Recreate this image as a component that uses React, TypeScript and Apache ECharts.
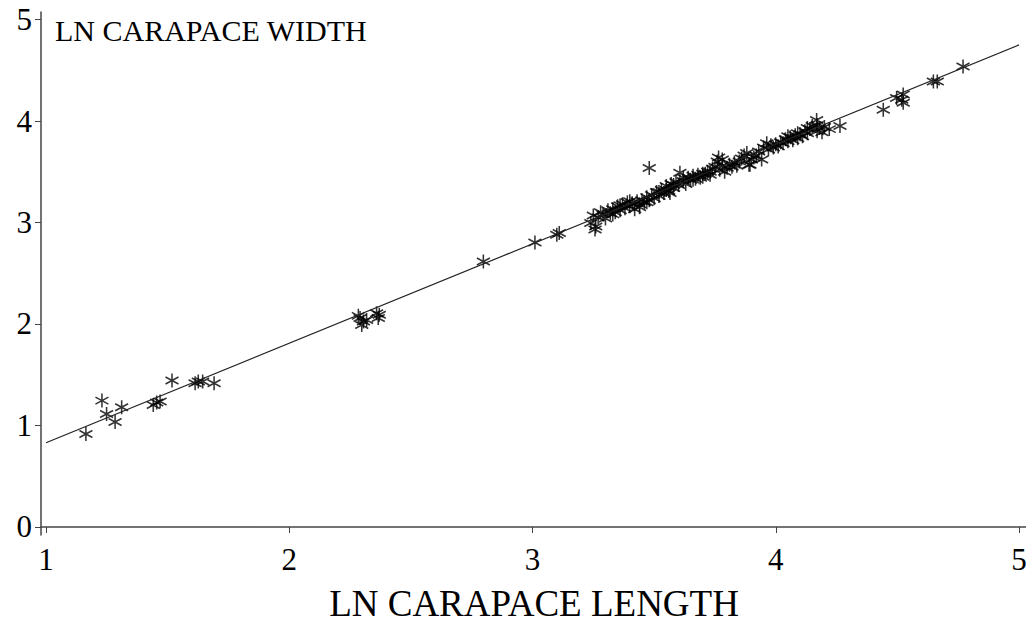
import React, { useEffect, useRef } from "react";
import * as echarts from "echarts";

// tick values
const xTicks = [1, 2, 3, 4, 5];
const yTicks = [0, 1, 2, 3, 4, 5];

// ln carapace length (x) and ln carapace width (y)
const lengthLow = [1.164, 1.230, 1.249, 1.284, 1.311, 1.441, 1.455, 1.469, 1.518, 1.613, 1.626, 1.644, 1.691];
const widthLow = [0.917, 1.245, 1.114, 1.035, 1.18, 1.203, 1.226, 1.236, 1.443, 1.417, 1.433, 1.433, 1.417];

const lengthMid = [2.284, 2.291, 2.298, 2.305, 2.318, 2.359, 2.366, 2.370, 2.798, 3.010, 3.100, 3.110];
const widthMid = [2.08, 2.058, 1.99, 2.025, 2.04, 2.107, 2.058, 2.09, 2.616, 2.804, 2.880, 2.896];

const lengthBand = [
  3.24, 3.25, 3.257, 3.26, 3.27, 3.28, 3.29, 3.30, 3.31, 3.32, 3.33, 3.33, 3.34, 3.35, 3.36, 3.36,
  3.37, 3.38, 3.39, 3.40, 3.40, 3.41, 3.42, 3.43, 3.44, 3.44, 3.45, 3.46, 3.47, 3.47, 3.48, 3.48,
  3.49, 3.50, 3.51, 3.52, 3.52, 3.53, 3.54, 3.55, 3.55, 3.56, 3.565, 3.57, 3.58, 3.58, 3.59, 3.60,
  3.606, 3.62, 3.62, 3.63, 3.64, 3.65, 3.66, 3.66, 3.67, 3.68, 3.69, 3.70, 3.70, 3.71, 3.72, 3.73,
  3.73, 3.74, 3.75, 3.76, 3.765, 3.77, 3.78, 3.78, 3.79, 3.80, 3.81, 3.82, 3.83, 3.84, 3.85, 3.86,
  3.87, 3.881, 3.89, 3.894, 3.90, 3.91, 3.92, 3.93, 3.942, 3.95, 3.963, 3.97, 3.98, 3.99, 4.00, 4.01,
  4.02, 4.03, 4.04, 4.05, 4.05, 4.06, 4.07, 4.08, 4.09, 4.09, 4.10, 4.11, 4.12, 4.13, 4.13, 4.14,
  4.15, 4.168, 4.17, 4.17, 4.18, 4.19, 4.20, 4.22, 4.264,
];
const widthBand = [
  2.995, 3.07, 2.93, 2.96, 3.05, 3.10, 3.08, 3.04, 3.12, 3.09, 3.13, 3.08, 3.10, 3.16, 3.12, 3.17,
  3.18, 3.14, 3.20, 3.16, 3.21, 3.19, 3.13, 3.21, 3.18, 3.15, 3.22, 3.20, 3.25, 3.20, 3.22, 3.537,
  3.27, 3.24, 3.30, 3.26, 3.30, 3.32, 3.29, 3.36, 3.32, 3.31, 3.29, 3.38, 3.34, 3.37, 3.40, 3.37,
  3.49, 3.41, 3.44, 3.38, 3.44, 3.42, 3.46, 3.42, 3.43, 3.47, 3.44, 3.45, 3.48, 3.48, 3.50, 3.47,
  3.50, 3.53, 3.55, 3.60, 3.64, 3.52, 3.62, 3.56, 3.50, 3.54, 3.57, 3.55, 3.59, 3.56, 3.60, 3.63,
  3.66, 3.685, 3.57, 3.57, 3.62, 3.64, 3.66, 3.70, 3.62, 3.74, 3.78, 3.72, 3.76, 3.74, 3.77, 3.75,
  3.79, 3.78, 3.82, 3.80, 3.85, 3.84, 3.81, 3.86, 3.83, 3.88, 3.87, 3.85, 3.90, 3.88, 3.93, 3.92,
  3.95, 4.01, 3.90, 3.96, 3.93, 3.89, 3.94, 3.92, 3.95,
];

const lengthHigh = [4.442, 4.497, 4.518, 4.524, 4.524, 4.648, 4.664, 4.770];
const widthHigh = [4.112, 4.227, 4.21, 4.26, 4.18, 4.39, 4.39, 4.536];

// fitted line end points
const fitX = [1, 5];
const fitY = [0.83, 4.75];

const xTitle = "LN CARAPACE LENGTH";
const yTitle = "LN CARAPACE WIDTH";

const FONT = "'Liberation Serif', 'Times New Roman', serif";
const STAR = "path://M10 0 L10 20 M1.34 5 L18.66 15 M1.34 15 L18.66 5";

export default function App() {
  const ref = useRef<HTMLDivElement>(null);

  useEffect(() => {
    if (!ref.current) return;
    const chart = echarts.init(ref.current, null, { renderer: "svg" });
    const xs = [...lengthLow, ...lengthMid, ...lengthBand, ...lengthHigh];
    const ys = [...widthLow, ...widthMid, ...widthBand, ...widthHigh];
    const points = xs.map((x, i) => [x, ys[i]]);
    const fit = fitX.map((x, i) => [x, fitY[i]]);

    chart.setOption({
      animation: false,
      backgroundColor: "#fff",
      title: {
        text: yTitle,
        left: 55,
        top: 15,
        padding: 0,
        textStyle: { fontFamily: FONT, fontSize: 30, fontWeight: "normal", color: "#000" },
      },
      grid: {
        left: 41,
        right: 7,
        top: 12,
        bottom: 88,
        containLabel: false,
        outerBoundsMode: "none",
      },
      xAxis: {
        type: "value",
        min: 0.9794,
        max: 5.0329,
        name: xTitle,
        nameLocation: "middle",
        nameGap: 50,
        nameTextStyle: { fontFamily: FONT, fontSize: 37, color: "#000" },
        axisLine: { show: true, lineStyle: { color: "#444", width: 1.5 } },
        axisTick: { show: true, customValues: xTicks, length: 6, lineStyle: { color: "#444" } },
        axisLabel: {
          customValues: xTicks,
          fontFamily: FONT,
          fontSize: 31,
          color: "#000",
          margin: 9,
        },
        splitLine: { show: false },
      },
      yAxis: {
        type: "value",
        min: -0.079,
        max: 5.074,
        axisLine: { show: true, lineStyle: { color: "#444", width: 1.5 } },
        axisTick: { show: true, customValues: yTicks, length: 6, lineStyle: { color: "#444" } },
        axisLabel: {
          customValues: yTicks,
          fontFamily: FONT,
          fontSize: 31,
          color: "#000",
          margin: 9,
        },
        splitLine: { show: false },
      },
      series: [
        {
          type: "line",
          data: fit,
          symbol: "none",
          lineStyle: { color: "#222", width: 1.2 },
          silent: true,
        },
        {
          type: "scatter",
          data: points,
          symbol: STAR,
          symbolSize: [13, 14],
          itemStyle: { color: "transparent", borderColor: "#000", borderWidth: 1.6 },
        },
      ],
    });
    return () => chart.dispose();
  }, []);

  return <div ref={ref} style={{ width: 1034, height: 623, marginLeft: -8, marginTop: -8 }} />;
}
